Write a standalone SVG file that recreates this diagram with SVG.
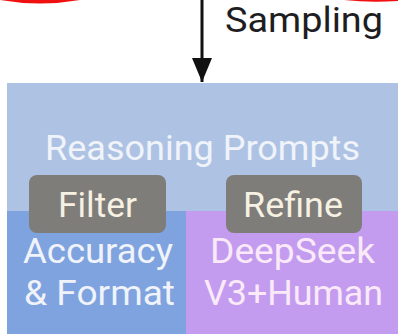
<svg xmlns="http://www.w3.org/2000/svg" width="398" height="335" viewBox="0 0 398 335">
  <defs>
    <style>
      .t { font-family: "Roboto", "Liberation Sans", sans-serif; font-size: 35px; }
      .lt { fill: #F0F3FA; }
      .pk { fill: #FAEAF8; }
      .cr { fill: #F6F1E2; }
      .btn { fill: #7F7D79; }
    </style>
    <marker id="ah" viewBox="0 0 24 20" refX="24" refY="10" markerWidth="24" markerHeight="20" markerUnits="userSpaceOnUse" orient="auto">
      <path d="M0,0 L24,10 L0,20 Z" fill="#111"/>
    </marker>
  </defs>
  <rect width="398" height="335" fill="#FFFFFF"/>
  <g id="decor">
    <path d="M0,0 Q40,7 80,0 Z" fill="#F01010"/>
    <path d="M344,0 Q370,3 398,1 L398,0 Z" fill="#F01010"/>
  </g>
  <g id="connectors">
    <line x1="202" y1="0" x2="202" y2="82" stroke="#111" stroke-width="3" marker-end="url(#ah)"/>
    <text class="t" x="225" y="32" font-size="34" fill="#1E1E22" textLength="158" lengthAdjust="spacingAndGlyphs">Sampling</text>
  </g>
  <g id="reasoning-prompts">
    <rect x="7" y="83" width="391" height="251" fill="#AEC3E4"/>
    <text class="t lt" x="45" y="160" textLength="315" lengthAdjust="spacingAndGlyphs">Reasoning Prompts</text>
  </g>
  <g id="accuracy-format">
    <rect x="7" y="211" width="179" height="123" fill="#7FA3DE"/>
    <text class="t lt" x="23" y="263" textLength="150" lengthAdjust="spacingAndGlyphs">Accuracy</text>
    <text class="t lt" x="24" y="305" textLength="151" lengthAdjust="spacingAndGlyphs">&amp; Format</text>
  </g>
  <g id="deepseek-human">
    <rect x="186" y="211" width="212" height="123" fill="#C39CF0"/>
    <text class="t pk" x="210" y="263" textLength="165" lengthAdjust="spacingAndGlyphs">DeepSeek</text>
    <text class="t pk" x="204" y="305" textLength="179" lengthAdjust="spacingAndGlyphs">V3+Human</text>
  </g>
  <g id="filter">
    <rect class="btn" x="29" y="175" width="137" height="58" rx="8"/>
    <text class="t cr" x="58" y="217" textLength="79" lengthAdjust="spacingAndGlyphs">Filter</text>
  </g>
  <g id="refine">
    <rect class="btn" x="226" y="175" width="136" height="58" rx="8"/>
    <text class="t cr" x="243" y="217" textLength="100" lengthAdjust="spacingAndGlyphs">Refine</text>
  </g>
</svg>
